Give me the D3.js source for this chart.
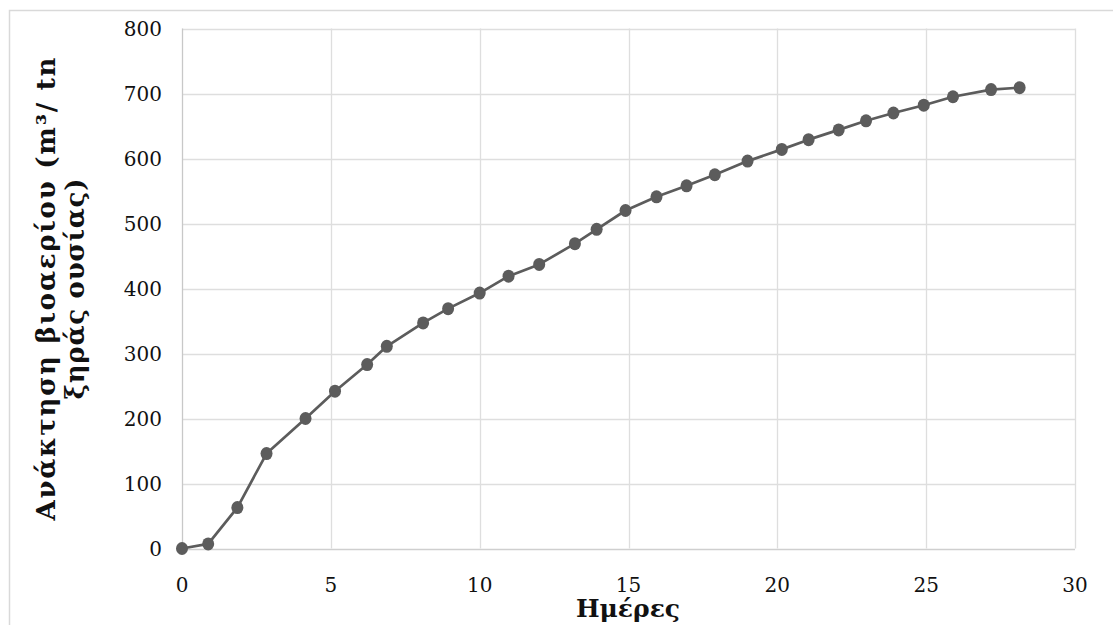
<!DOCTYPE html>
<html>
<head>
<meta charset="utf-8">
<script src="https://cdn.jsdelivr.net/npm/d3@7"></script>
<style>
  html, body { margin: 0; padding: 0; background: #fff; }
  svg { display: block; }
</style>
</head>
<body>
<svg id="chart" width="1113" height="625"></svg>
<script>
// Data
const days = [0, 0.88, 1.86, 2.84, 4.15, 5.14, 6.22, 6.88, 8.1, 8.94, 10.0, 10.97, 12.0, 13.2, 13.93, 14.9, 15.94, 16.95, 17.9, 19.0, 20.15, 21.05, 22.06, 22.98, 23.9, 24.92, 25.9, 27.18, 28.14];
const biogas = [0, 7, 63, 146, 200, 242, 283, 311, 347, 369, 393, 419, 437, 469, 491, 520, 541, 558, 575, 596, 614, 629, 644, 658, 670, 682, 695, 706, 709];
const xTicks = [0, 5, 10, 15, 20, 25, 30];
const yTicks = [0, 100, 200, 300, 400, 500, 600, 700, 800];
const xTitle = "Ημέρες";
const yTitleLines = ["Ανάκτηση βιοαερίου (m³/ tn", "ξηράς ουσίας)"];

const svg = d3.select("#chart");
const W = 1113, H = 625;
const m = { left: 182, right: 1075, top: 28.5, bottom: 548.5 };

const x = d3.scaleLinear().domain([0, 30]).range([m.left, m.right]);
const y = d3.scaleLinear().domain([0, 800]).range([m.bottom, m.top]);

const tickFont = "'DejaVu Serif', serif";

// outer chart border
svg.append("rect")
  .attr("x", 9.5).attr("y", 10.5)
  .attr("width", W + 10).attr("height", H + 10)
  .attr("fill", "none").attr("stroke", "#d9d9d9").attr("stroke-width", 1.5);

// horizontal gridlines
svg.append("g")
  .selectAll("line").data(yTicks).join("line")
  .attr("x1", m.left).attr("x2", m.right)
  .attr("y1", d => Math.round(y(d)) + 0.5).attr("y2", d => Math.round(y(d)) + 0.5)
  .attr("stroke", d => d === 0 ? "#cfcfcf" : "#dedede").attr("stroke-width", 1.3);

// vertical gridlines
svg.append("g")
  .selectAll("line").data(xTicks).join("line")
  .attr("y1", m.top).attr("y2", m.bottom)
  .attr("x1", d => Math.round(x(d)) + 0.5).attr("x2", d => Math.round(x(d)) + 0.5)
  .attr("stroke", d => d === 0 ? "#c8c8c8" : "#dedede").attr("stroke-width", 1.3);

// y tick labels
svg.append("g")
  .selectAll("text").data(yTicks).join("text")
  .attr("x", 162).attr("y", d => y(d) + 7.5)
  .attr("text-anchor", "end")
  .attr("font-family", tickFont).attr("font-size", 20).attr("fill", "#111")
  .text(d => d);

// x tick labels
svg.append("g")
  .selectAll("text").data(xTicks).join("text")
  .attr("x", d => x(d)).attr("y", 592)
  .attr("text-anchor", "middle")
  .attr("font-family", tickFont).attr("font-size", 20).attr("fill", "#111")
  .text(d => d);

// line
const line = d3.line().x((d, i) => x(days[i])).y(d => y(d));
svg.append("path")
  .datum(biogas)
  .attr("d", line)
  .attr("fill", "none").attr("stroke", "#5c5c5c").attr("stroke-width", 2.7)
  .attr("stroke-linejoin", "round");

// markers
svg.append("g")
  .selectAll("ellipse").data(biogas).join("ellipse")
  .attr("cx", (d, i) => x(days[i])).attr("cy", d => y(d))
  .attr("rx", 6).attr("ry", 6.5)
  .attr("fill", "#5c5c5c");

// x axis title
svg.append("text")
  .attr("x", 628).attr("y", 617)
  .attr("text-anchor", "middle")
  .attr("font-family", tickFont).attr("font-weight", "bold").attr("font-size", 25).attr("fill", "#111")
  .text(xTitle);

// y axis title (two lines, rotated)
const yt = svg.append("text")
  .attr("transform", "translate(55,289) rotate(-90)")
  .attr("text-anchor", "middle")
  .attr("font-family", tickFont).attr("font-weight", "bold").attr("font-size", 26).attr("fill", "#111");
const targetLen = [463, 221];
yTitleLines.forEach((t, i) => {
  yt.append("tspan").attr("x", 0).attr("dy", i === 0 ? 0 : 29).text(t)
    .attr("textLength", targetLen[i]).attr("lengthAdjust", "spacing");
});
</script>
</body>
</html>
